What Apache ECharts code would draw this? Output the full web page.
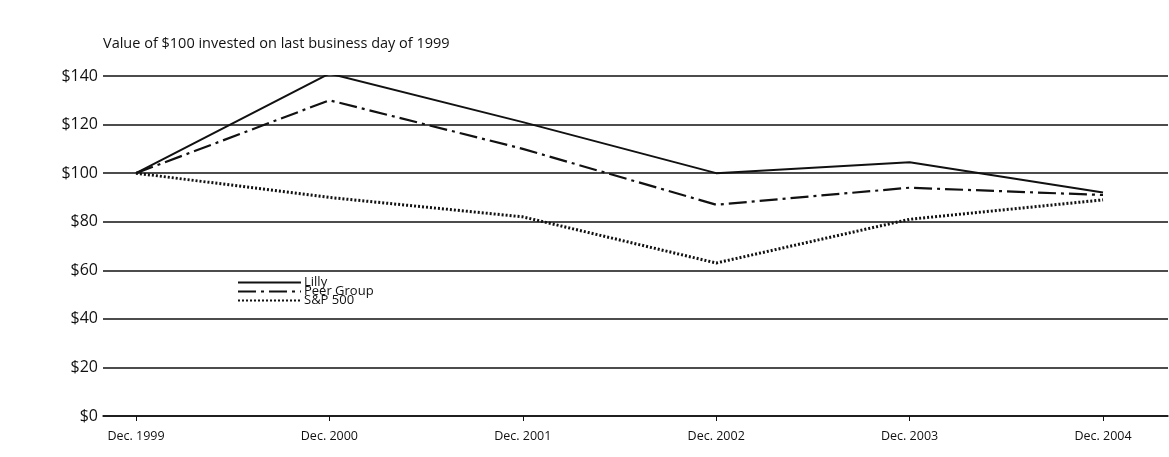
<!DOCTYPE html>
<html><head><meta charset="utf-8">
<script src="https://cdn.jsdelivr.net/npm/echarts@6/dist/echarts.min.js"></script>
<style>html,body{margin:0;padding:0;background:#fff}#c{width:1169px;height:457px}</style>
</head><body><div id="c"></div>
<script>
var categories = ['Dec. 1999','Dec. 2000','Dec. 2001','Dec. 2002','Dec. 2003','Dec. 2004'];
var lilly = [100, 141, 121, 100, 104.5, 92];
var peerGroup = [100, 130, 110, 87, 94, 91];
var sp500 = [100, 90, 82, 63, 81, 89];

function pts(arr){ return arr.map(function(v,i){ return [i, v]; }); }
var idx = categories.map(function(_, i){ return i; });
var font = '"Open Sans", Roboto, sans-serif';
var ink = '#111';

var chart = echarts.init(document.getElementById('c'), null, {renderer:'canvas'});
chart.setOption({
  animation:false,
  backgroundColor:'#fff',
  title:{text:'Value of $100 invested on last business day of 1999', left:103, top:36, padding:0,
    textStyle:{fontFamily:font, fontSize:14.5, fontWeight:'normal', color:ink}},
  legend:{orient:'vertical', left:237, top:276, padding:0, itemWidth:63, itemHeight:9, itemGap:-4,
    itemStyle:{opacity:0},
    textStyle:{fontFamily:font, fontSize:13, color:ink, padding:[0,0,0,-2]},
    data:['Lilly','Peer Group','S&P 500']},
  grid:{left:103, right:1, top:76, bottom:41, containLabel:false},
  xAxis:{type:'value', min:-0.1706, max:5.336,
    splitLine:{show:false},
    axisLine:{show:true, lineStyle:{color:ink, width:1.5}},
    axisTick:{show:true, customValues:idx, length:5, lineStyle:{color:ink, width:1}},
    axisLabel:{customValues:idx, margin:14, fontFamily:font, fontSize:12.5, color:ink,
      formatter:function(v){ return categories[Math.round(v)]; }}},
  yAxis:{type:'value', min:0, max:140, interval:20,
    axisLine:{show:false}, axisTick:{show:false},
    splitLine:{show:true, lineStyle:{color:ink, width:1.5}},
    axisLabel:{margin:5, fontFamily:font, fontSize:16, color:ink,
      formatter:function(v){ return '$' + v; }}},
  series:[
    {name:'Lilly', type:'line', data:pts(lilly), symbol:'none',
      lineStyle:{color:ink, width:2, type:'solid'}, itemStyle:{color:ink}},
    {name:'Peer Group', type:'line', data:pts(peerGroup), symbol:'none',
      lineStyle:{color:ink, width:2.2, type:[18,5,3,5]}, itemStyle:{color:ink}},
    {name:'S&P 500', type:'line', data:pts(sp500), symbol:'none',
      lineStyle:{color:ink, width:3, type:[2,2]}, itemStyle:{color:ink}}
  ]
});
</script></body></html>
